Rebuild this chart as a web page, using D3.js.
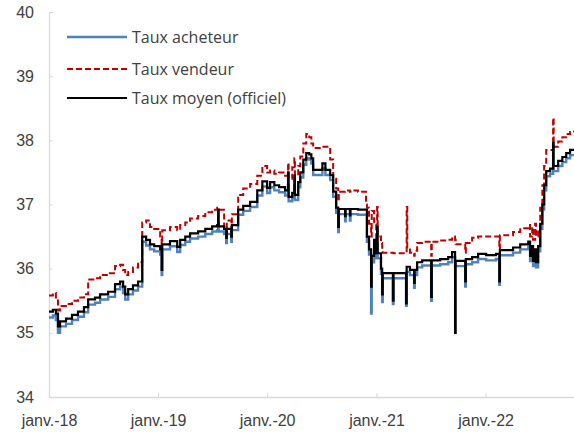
<!DOCTYPE html>
<meta charset="utf-8">
<style>
body { margin: 0; background: #fff; }
svg { display: block; font-family: "Open Sans", sans-serif; }
.axis path, .axis line { stroke: #d9d9d9; }
.axis text { fill: #404040; font-size: 16px; }
.legend text { fill: #404040; font-size: 16px; }
</style>
<svg width="574" height="439"></svg>
<script src="https://cdn.jsdelivr.net/npm/d3@7"></script>
<script>

// observation dates (step data, spikes are one-off days)
var dates = [
  "2018-01-01","2018-01-14","2018-01-24","2018-01-31","2018-02-07","2018-02-27","2018-03-19","2018-04-08",
  "2018-04-28","2018-05-12","2018-06-04","2018-06-21","2018-07-18","2018-08-10","2018-08-27","2018-09-06",
  "2018-09-13","2018-09-23","2018-10-09","2018-10-26","2018-11-09","2018-11-22","2018-12-05","2018-12-19",
  "2019-01-08","2019-01-13","2019-01-15","2019-02-10","2019-03-06","2019-03-16","2019-04-02","2019-04-18",
  "2019-05-15","2019-06-08","2019-07-01","2019-07-18","2019-07-21","2019-07-23","2019-08-10","2019-08-17",
  "2019-08-19","2019-09-03","2019-09-05","2019-09-26","2019-10-13","2019-11-05","2019-11-29","2019-12-16",
  "2020-01-01","2020-01-11","2020-01-25","2020-02-10","2020-03-01","2020-03-11","2020-03-13","2020-03-25",
  "2020-04-01","2020-04-03","2020-04-14","2020-04-21","2020-05-01","2020-05-11","2020-05-21","2020-05-28",
  "2020-06-03","2020-07-04","2020-07-14","2020-07-30","2020-08-09","2020-08-19","2020-08-26","2020-08-28",
  "2020-09-18","2020-09-20","2020-10-04","2020-10-06","2020-10-31","2020-11-27","2020-11-30","2020-12-07",
  "2020-12-14","2020-12-16","2020-12-24","2020-12-31","2021-01-03","2021-01-05","2021-01-16","2021-01-20",
  "2021-01-22","2021-02-25","2021-02-27","2021-04-10","2021-04-12","2021-04-14","2021-04-23","2021-05-07",
  "2021-05-09","2021-05-17","2021-06-03","2021-07-03","2021-07-05","2021-08-02","2021-08-29","2021-09-11",
  "2021-09-21","2021-09-23","2021-10-25","2021-10-27","2021-11-17","2021-12-07","2022-01-03","2022-02-05",
  "2022-02-16","2022-02-18","2022-04-03","2022-04-27","2022-05-24","2022-05-30","2022-06-06","2022-06-09",
  "2022-06-16","2022-06-19","2022-06-26","2022-07-03","2022-07-10","2022-07-16","2022-07-23","2022-08-05",
  "2022-08-15","2022-08-17","2022-09-01","2022-09-15","2022-09-28","2022-10-11","2022-10-24"
];

var moyen = [
  35.33,35.36,35.30,35.10,35.18,35.22,35.28,35.33,
  35.40,35.52,35.55,35.60,35.64,35.76,35.80,35.72,
  35.60,35.68,35.74,35.80,36.50,36.45,36.38,36.35,
  36.30,35.98,36.38,36.43,36.34,36.45,36.50,36.55,
  36.58,36.62,36.66,36.68,36.92,36.66,36.62,36.48,
  36.62,36.50,36.68,36.92,36.98,37.04,37.22,37.36,
  37.26,37.35,37.30,37.27,37.22,37.50,37.12,37.18,
  37.45,37.15,37.35,37.50,37.70,37.80,37.78,37.72,
  37.54,37.64,37.54,37.46,37.20,36.95,36.65,36.93,
  36.82,36.93,36.83,36.93,36.92,36.92,36.50,36.30,
  35.72,36.20,36.45,36.24,36.65,36.24,36.00,35.60,
  35.93,35.50,35.93,35.46,36.03,36.03,35.98,35.78,
  35.98,36.10,36.13,35.56,36.13,36.15,36.18,36.26,
  35.00,36.12,35.80,36.15,36.18,36.23,36.21,36.23,
  35.80,36.29,36.33,36.38,36.42,36.20,36.35,36.12,
  36.30,36.10,36.35,36.70,37.00,37.30,37.52,37.56,
  37.96,37.60,37.68,37.74,37.80,37.85,37.85
];

var acheteur = [
  35.24,35.27,35.20,35.00,35.10,35.14,35.20,35.25,
  35.32,35.44,35.47,35.52,35.56,35.68,35.72,35.62,
  35.52,35.60,35.66,35.72,36.42,36.36,36.30,36.27,
  36.22,35.90,36.30,36.35,36.26,36.37,36.42,36.47,
  36.50,36.54,36.58,36.60,36.70,36.58,36.54,36.40,
  36.54,36.42,36.60,36.84,36.90,36.96,37.14,37.28,
  37.18,37.27,37.22,37.19,37.14,37.30,37.05,37.10,
  37.30,37.07,37.27,37.42,37.62,37.72,37.70,37.64,
  37.46,37.56,37.46,37.38,37.12,36.87,36.57,36.85,
  36.74,36.85,36.75,36.85,36.84,36.84,36.42,36.22,
  35.30,36.10,36.30,36.16,36.40,36.16,35.92,35.48,
  35.85,35.45,35.85,35.42,35.95,35.95,35.90,35.70,
  35.90,36.02,36.05,35.50,36.05,36.07,36.10,36.18,
  36.05,36.04,35.72,36.07,36.10,36.15,36.13,36.15,
  35.75,36.21,36.25,36.30,36.34,36.12,36.25,36.04,
  36.22,36.02,36.27,36.62,36.92,37.22,37.44,37.48,
  37.60,37.52,37.60,37.66,37.72,37.77,37.77
];

var vendeur = [
  35.58,35.62,35.55,35.35,35.42,35.45,35.50,35.55,
  35.60,35.83,35.85,35.90,35.93,36.04,36.06,35.98,
  35.90,35.95,36.02,36.10,36.72,36.75,36.65,36.62,
  36.50,36.38,36.60,36.65,36.60,36.68,36.72,36.78,
  36.82,36.88,36.92,36.95,36.95,36.92,36.60,36.55,
  36.75,36.55,36.85,37.15,37.25,37.32,37.45,37.60,
  37.50,37.53,37.48,37.50,37.45,37.65,37.40,37.58,
  37.72,37.45,37.60,37.75,37.95,38.10,38.05,37.95,
  37.88,37.90,37.90,37.70,37.40,37.25,37.05,37.20,
  37.22,37.22,37.20,37.22,37.20,37.00,36.95,36.70,
  36.50,36.90,36.70,36.45,36.96,36.50,36.40,36.30,
  36.25,36.25,36.24,36.24,36.96,36.30,36.25,36.20,
  36.28,36.40,36.42,36.20,36.42,36.44,36.45,36.50,
  36.45,36.38,36.25,36.40,36.48,36.50,36.50,36.50,
  36.30,36.52,36.57,36.63,36.68,36.50,36.65,36.45,
  36.70,36.50,36.62,36.95,37.30,37.60,37.85,37.85,
  38.35,37.90,37.98,38.05,38.10,38.13,38.15
];

var yTicks = [34, 35, 36, 37, 38, 39, 40];
var xTickDates = ["2018-01-01", "2019-01-01", "2020-01-01", "2021-01-01", "2022-01-01"];
var xTickLabels = ["janv.-18", "janv.-19", "janv.-20", "janv.-21", "janv.-22"];

var seriesNames = ["Taux acheteur", "Taux vendeur", "Taux moyen (officiel)"];
var seriesColors = ["#4f81bd", "#c00000", "#000000"];

var svg = d3.select("svg"),
    margin = {top: 12, right: 0, bottom: 42, left: 49},
    width = +svg.attr("width") - margin.left - margin.right,
    height = +svg.attr("height") - margin.top - margin.bottom;

var parse = d3.timeParse("%Y-%m-%d");
var t = dates.map(parse);

var x = d3.scaleTime()
    .domain([parse("2018-01-01"), parse("2022-10-24")])
    .range([0, width]);
var y = d3.scaleLinear().domain([34, 40]).range([height, 0]);

var g = svg.append("g")
    .attr("transform", "translate(" + margin.left + "," + margin.top + ")");

g.append("g")
    .attr("class", "axis axis--x")
    .attr("transform", "translate(0," + height + ")")
    .call(d3.axisBottom(x)
      .tickValues(xTickDates.map(parse))
      .tickFormat(function(d, i) { return xTickLabels[i]; })
      .tickSizeInner(-4).tickSizeOuter(0).tickPadding(18));

g.append("g")
    .attr("class", "axis axis--y")
    .call(d3.axisLeft(y)
      .tickValues(yTicks)
      .tickFormat(d3.format("d"))
      .tickSizeInner(-4).tickSizeOuter(0).tickPadding(15));

g.selectAll(".axis text").attr("font-family", null);
g.selectAll(".axis path").attr("stroke-width", 1.3);

var line = d3.line()
    .curve(d3.curveStepAfter)
    .x(function(d) { return x(d[0]); })
    .y(function(d) { return y(d[1]); });

var series = [acheteur, vendeur, moyen];
var widths = [2.4, 2, 2.2];
var dashes = [null, "6,3", null];

series.forEach(function(vals, i) {
  g.append("path")
      .datum(t.map(function(d, j) { return [d, vals[j]]; }))
      .attr("fill", "none")
      .attr("stroke", seriesColors[i])
      .attr("stroke-width", widths[i])
      .attr("stroke-dasharray", dashes[i])
      .attr("d", line);
});

var legend = svg.append("g").attr("class", "legend");
var legendY = [37, 69, 98];
seriesNames.forEach(function(name, i) {
  legend.append("line")
      .attr("x1", 67).attr("x2", 127)
      .attr("y1", legendY[i]).attr("y2", legendY[i])
      .attr("stroke", seriesColors[i])
      .attr("stroke-width", widths[i])
      .attr("stroke-dasharray", dashes[i]);
  legend.append("text")
      .attr("x", 132).attr("y", legendY[i])
      .attr("dy", "0.35em")
      .text(name);
});

</script>
